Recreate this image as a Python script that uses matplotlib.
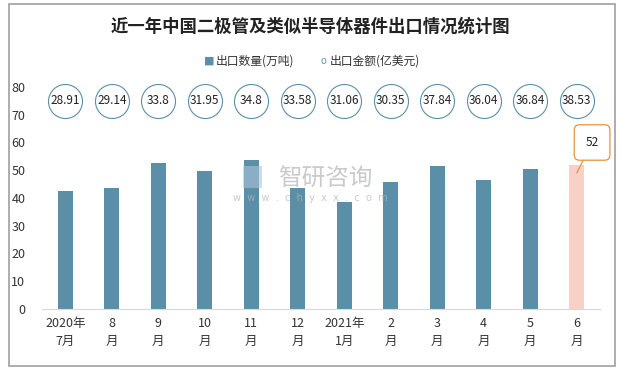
import matplotlib
matplotlib.use("Agg")
import matplotlib.pyplot as plt
from matplotlib.patches import Rectangle

plt.rcParams['font.family'] = ['Noto Sans CJK SC', 'DejaVu Sans']

months = ['2020年\n7月', '8\n月', '9\n月', '10\n月', '11\n月', '12\n月',
          '2021年\n1月', '2\n月', '3\n月', '4\n月', '5\n月', '6\n月']
quantity = [42.5, 43.7, 52.6, 49.8, 53.7, 43.7, 38.6, 45.8, 51.5, 46.5, 50.5, 52]
amount = [28.91, 29.14, 33.8, 31.95, 34.8, 33.58, 31.06, 30.35, 37.84, 36.04, 36.84, 38.53]
bubble_y = 75

bar_color = '#5B8FA8'
last_color = '#F8D0C6'
orange = '#E8923A'

fig = plt.figure(figsize=(6.2, 3.7), dpi=100)
fig.patches.append(Rectangle((9 / 620, 4 / 370), 606 / 620, 362 / 370, transform=fig.transFigure,
                             fill=False, ec='#A0A0A0', lw=1.2))
ax = fig.add_axes([42 / 620, 1 - 309 / 370, 558 / 620, 222 / 370])

x = list(range(len(months)))
colors = [bar_color] * (len(months) - 1) + [last_color]
ax.bar(x, quantity, width=0.33, color=colors, zorder=2)
ax.scatter(x, [bubble_y] * len(x), s=600, facecolors='white', edgecolors=bar_color,
           linewidths=0.8, zorder=3, clip_on=False)
for xi, v in zip(x, amount):
    ax.text(xi, bubble_y, f'{v}', ha='center', va='center', fontsize=8.5, color='#222222', zorder=4)

ax.annotate(f'{quantity[-1]:g}', xy=(x[-1], quantity[-1] - 3), xytext=(x[-1] + 0.33, 60),
            ha='center', va='center', fontsize=8.5, color='#222222',
            bbox=dict(boxstyle='round,pad=0.95,rounding_size=0.45', fc='white', ec=orange, lw=0.9),
            arrowprops=dict(arrowstyle='-', color=orange, lw=0.9, shrinkA=0, shrinkB=0))

ax.set_xlim(-0.5, len(months) - 0.5)
ax.set_ylim(0, 80)
ax.set_yticks(range(0, 81, 10))
ax.set_xticks(x)
ax.set_xticklabels(months, fontsize=9, color='#333333', linespacing=1.5)
ax.tick_params(axis='y', labelsize=9, colors='#333333', length=0, pad=12)
ax.tick_params(axis='x', length=0, pad=6)
for side in ['left', 'right', 'top']:
    ax.spines[side].set_visible(False)
ax.spines['bottom'].set_color('#D9D9D9')

# watermark
fig.patches.append(Rectangle((243 / 620, 1 - 188 / 370), 19 / 620, 22 / 370, transform=fig.transFigure,
                             fc='#A9C3DA', ec='none', alpha=0.6, zorder=5))
fig.text(0.525, 0.515, '智研咨询', fontsize=17, color='#B4B4B4', alpha=0.7, ha='center', va='center')
fig.text(0.50, 0.465, 'w  w  w  .  c  h  y  x  x  .  c  o  m', fontsize=7, color='#B4B4B4', alpha=0.7,
         ha='center', va='center', family='DejaVu Sans')

fig.text(0.5, 0.927, '近一年中国二极管及类似半导体器件出口情况统计图', ha='center', va='center',
         fontsize=12.5, fontweight='bold', color='#222222')

fig.text(0.338, 0.836, '■', fontsize=8, color=bar_color, ha='center', va='center', family='DejaVu Sans')
fig.text(0.348, 0.836, '出口数量(万吨)', fontsize=8.5, color='#333333', ha='left', va='center')
fig.text(0.522, 0.836, 'o', fontsize=7, color=bar_color, ha='center', va='center', family='DejaVu Sans')
fig.text(0.532, 0.836, '出口金额(亿美元)', fontsize=8.5, color='#333333', ha='left', va='center')

fig.savefig('out.png', dpi=100)
